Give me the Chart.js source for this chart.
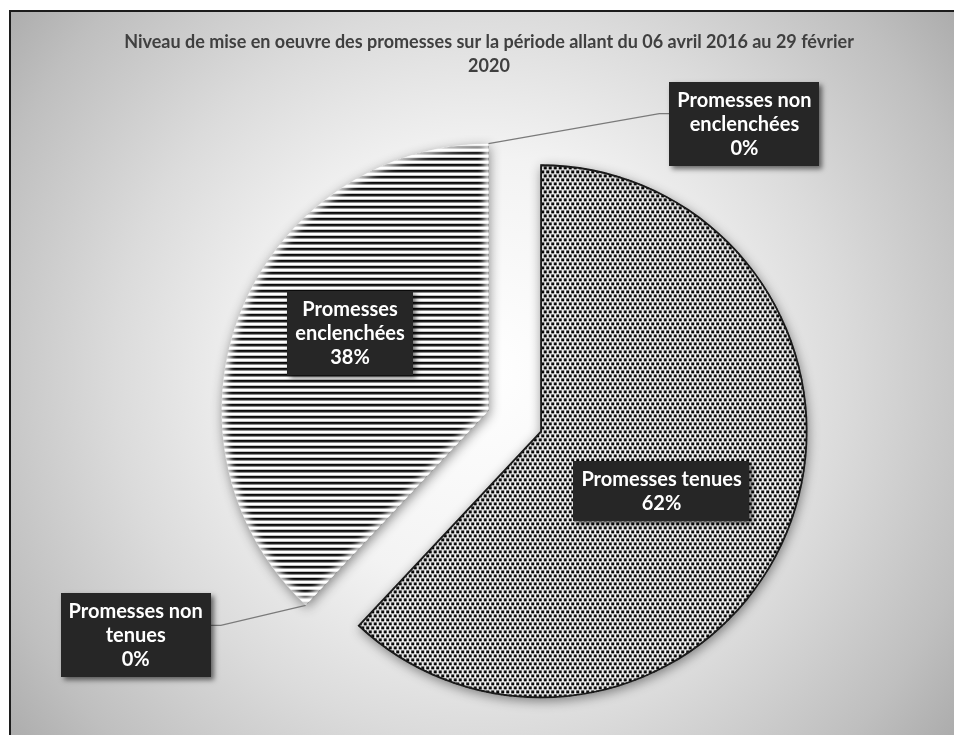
<!DOCTYPE html>
<html lang="fr">
<head>
<meta charset="utf-8">
<title>Niveau de mise en oeuvre des promesses</title>
<script src="https://cdn.jsdelivr.net/npm/chart.js@4.4.1/dist/chart.umd.min.js"></script>
<style>
  html, body { margin: 0; padding: 0; background: #ffffff; }
  canvas { display: block; }
</style>
</head>
<body>
<canvas id="chart" width="954" height="735"></canvas>
<script>
// ---- Données ----
const titleLines = [
  'Niveau de mise en oeuvre des promesses sur la période allant du 06 avril 2016 au 29 février',
  '2020'
];
const categories = [
  'Promesses tenues',
  'Promesses non tenues',
  'Promesses enclenchées',
  'Promesses non enclenchées'
];
const shares = [62, 0, 38, 0];
// Découpage des étiquettes sur plusieurs lignes
const labelLines = [
  ['Promesses tenues'],
  ['Promesses non', 'tenues'],
  ['Promesses', 'enclenchées'],
  ['Promesses non', 'enclenchées']
];

// ---- Mise en forme ----
const EXPLODE = 28;          // écartement des parts (px)
const PIE_RADIUS = 267;
const TITLE_FONT = 'bold 18px Lato';
const LABEL_FONT = 'bold 20px Lato';
const LABEL_LINE = 24;
const LABEL_PAD_X = 8;
const LABEL_PAD_Y = 6;
// Position des étiquettes : à l'intérieur (fraction du rayon, décalage angulaire en degrés)
// ou en légende extérieure reliée à la part voisine (host) par un trait.
const labelPlacement = [
  { inside: true, r: 0.506, turn: 4.8 },
  { host: 2, dx: -170, dy: 30 },
  { inside: true, r: 0.594, turn: 7.6 },
  { host: 2, dx: 256, dy: -20 }
];
// Halo clair le long des bords intérieurs
const sliceGlow = [false, false, true, false];

// Motifs de remplissage
function dotPattern() {
  const c = document.createElement('canvas');
  c.width = 5; c.height = 8;
  const g = c.getContext('2d');
  g.fillStyle = '#ffffff'; g.fillRect(0, 0, 5, 8);
  g.fillStyle = '#000000';
  g.fillRect(0.2, 0.2, 3.0, 2.9);
  g.fillRect(2.7, 4.2, 3.0, 2.9);
  g.fillRect(-2.3, 4.2, 3.0, 2.9);
  return g.createPattern(c, 'repeat');
}
function stripePattern() {
  const c = document.createElement('canvas');
  c.width = 6; c.height = 6;
  const g = c.getContext('2d');
  g.fillStyle = '#ffffff'; g.fillRect(0, 0, 6, 6);
  g.fillStyle = '#0a0a0a'; g.fillRect(0, 0, 6, 2);
  g.fillStyle = 'rgba(0,0,0,0.6)'; g.fillRect(0, 2, 6, 1);
  return g.createPattern(c, 'repeat');
}
const fills = [dotPattern(), '#888888', stripePattern(), '#888888'];
const edges = ['#1a1a1a', '#1a1a1a', '#ffffff', '#1a1a1a'];
const edgeWidths = [1.5, 0, 0, 0];

// Fond dégradé, cadre et titre
const backdrop = {
  id: 'backdrop',
  beforeDraw(chart) {
    const ctx = chart.ctx;
    const W = chart.width, H = chart.height;
    ctx.save();
    ctx.fillStyle = '#ffffff';
    ctx.fillRect(0, 0, W, H);
    const grad = ctx.createRadialGradient(480, 372, 0, 480, 372, 610);
    grad.addColorStop(0, '#ffffff');
    grad.addColorStop(0.35, '#f3f3f3');
    grad.addColorStop(0.6, '#dbdbdb');
    grad.addColorStop(0.85, '#bfbfbf');
    grad.addColorStop(1, '#a9a9a9');
    ctx.fillStyle = grad;
    ctx.fillRect(9, 10, W - 9, H - 10);
    ctx.strokeStyle = '#1c1c1c';
    ctx.lineWidth = 2;
    ctx.beginPath();
    ctx.moveTo(10, H);
    ctx.lineTo(10, 11);
    ctx.lineTo(W, 11);
    ctx.stroke();
    ctx.fillStyle = '#404040';
    ctx.font = TITLE_FONT;
    ctx.textAlign = 'center';
    ctx.textBaseline = 'middle';
    titleLines.forEach((t, i) => ctx.fillText(t, 489, 42 + i * 24));
    ctx.restore();
  }
};

function explodeVector(arc) {
  const mid = (arc.startAngle + arc.endAngle) / 2;
  return { x: Math.cos(mid) * EXPLODE, y: Math.sin(mid) * EXPLODE };
}

// Parts écartées du centre, avec ombre portée
const explodedSlices = {
  id: 'explodedSlices',
  beforeDatasetDraw(chart, args) {
    const ctx = chart.ctx;
    args.meta.data.forEach((arc, i) => {
      if (arc.endAngle - arc.startAngle <= 0) return;
      const v = explodeVector(arc);
      ctx.save();
      ctx.translate(v.x, v.y);
      ctx.shadowColor = 'rgba(0,0,0,0.45)';
      ctx.shadowBlur = 12;
      ctx.shadowOffsetX = 1;
      ctx.shadowOffsetY = 3;
      arc.draw(ctx);
      if (sliceGlow[i]) {
        ctx.shadowColor = 'transparent';
        ctx.beginPath();
        ctx.moveTo(arc.x, arc.y);
        ctx.arc(arc.x, arc.y, arc.outerRadius, arc.startAngle, arc.endAngle);
        ctx.closePath();
        ctx.clip();
        ctx.filter = 'blur(3px)';
        ctx.strokeStyle = 'rgba(255,255,255,0.9)';
        ctx.lineWidth = 8;
        ctx.stroke();
      }
      ctx.restore();
    });
    return false;
  }
};

// Étiquettes de données (cadres sombres)
const dataLabels = {
  id: 'dataLabels',
  afterDatasetsDraw(chart) {
    const ctx = chart.ctx;
    const meta = chart.getDatasetMeta(0);
    const total = shares.reduce((a, b) => a + b, 0);
    ctx.save();
    ctx.font = LABEL_FONT;
    meta.data.forEach((arc, i) => {
      const lines = labelLines[i].concat([Math.round(shares[i] / total * 100) + '%']);
      const w = Math.max(...lines.map(l => ctx.measureText(l).width)) + LABEL_PAD_X * 2;
      const h = lines.length * LABEL_LINE + LABEL_PAD_Y * 2;
      const p = labelPlacement[i];
      let cx, cy;
      if (p.inside) {
        const v = explodeVector(arc);
        const a = (arc.startAngle + arc.endAngle) / 2 + p.turn * Math.PI / 180;
        cx = arc.x + v.x + Math.cos(a) * arc.outerRadius * p.r;
        cy = arc.y + v.y + Math.sin(a) * arc.outerRadius * p.r;
      } else {
        const host = meta.data[p.host];
        const v = explodeVector(host);
        const ax = host.x + v.x + Math.cos(arc.startAngle) * host.outerRadius;
        const ay = host.y + v.y + Math.sin(arc.startAngle) * host.outerRadius;
        cx = ax + p.dx;
        cy = ay + p.dy;
        // trait de rappel
        const right = cx > ax;
        const ex = right ? cx - w / 2 : cx + w / 2;
        const ey = cy - 10;
        ctx.strokeStyle = '#7a7a7a';
        ctx.lineWidth = 1.2;
        ctx.beginPath();
        ctx.moveTo(ax, ay);
        ctx.lineTo(ex + (right ? -10 : 10), ey);
        ctx.lineTo(ex, ey);
        ctx.stroke();
      }
      const x0 = Math.round(cx - w / 2), y0 = Math.round(cy - h / 2);
      ctx.save();
      ctx.shadowColor = 'rgba(0,0,0,0.55)';
      ctx.shadowBlur = 5;
      ctx.shadowOffsetX = 3;
      ctx.shadowOffsetY = 3;
      ctx.fillStyle = '#262626';
      ctx.fillRect(x0, y0, Math.round(w), Math.round(h));
      ctx.restore();
      ctx.fillStyle = '#ffffff';
      ctx.textAlign = 'center';
      ctx.textBaseline = 'middle';
      lines.forEach((l, k) => {
        ctx.fillText(l, cx, y0 + LABEL_PAD_Y + LABEL_LINE * (k + 0.5) + 1);
      });
    });
    ctx.restore();
  }
};

new Chart(document.getElementById('chart'), {
  type: 'pie',
  data: {
    labels: categories,
    datasets: [{
      data: shares,
      backgroundColor: fills,
      borderColor: edges,
      borderWidth: edgeWidths,
      borderAlign: 'inner',
      radius: PIE_RADIUS
    }]
  },
  options: {
    responsive: false,
    animation: false,
    events: [],
    layout: { padding: { left: 90, right: 15, top: 120, bottom: 13 } },
    plugins: {
      legend: { display: false },
      title: { display: false },
      tooltip: { enabled: false }
    }
  },
  plugins: [backdrop, explodedSlices, dataLabels]
});
</script>
</body>
</html>
